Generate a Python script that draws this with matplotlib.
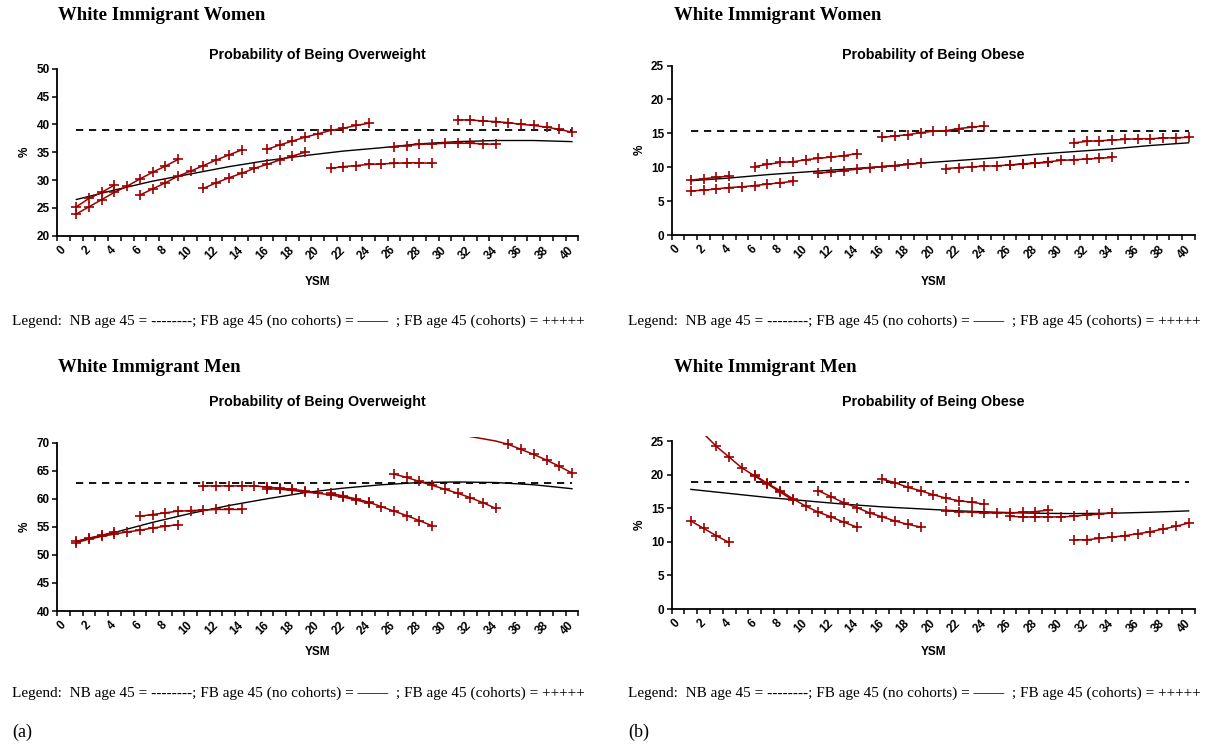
import matplotlib
matplotlib.use('Agg')
import matplotlib.pyplot as plt
import numpy as np
from matplotlib.patches import Rectangle

plt.rcParams['font.family'] = ['Liberation Sans', 'DejaVu Sans']

# ---------------- data ----------------
ysm_all = list(range(1, 41))
ysm_fb = [1, 4, 7, 10, 13, 16, 19, 22, 25, 28, 31, 34, 37, 40]
cohort_starts = [1, 1, 6, 11, 16, 21, 26, 31]
xtick_labels = [str(v) for v in range(0, 41, 2)]

# Women, overweight
ow_w_nb = 39.0
ow_w_fb = [26.5, 28.2, 29.8, 31.1, 32.4, 33.5, 34.4, 35.2, 35.8, 36.5, 36.9, 37.1, 37.1, 36.9]
ow_w_c1 = [25.2, 26.7, 27.8, 29.1]
ow_w_c2 = [23.9, 25.2, 26.5, 27.8, 28.9, 30.2, 31.4, 32.5, 33.7]
ow_w_c3 = [27.3, 28.4, 29.5, 30.7, 31.6, 32.6, 33.6, 34.5, 35.4]
ow_w_c4 = [28.5, 29.5, 30.4, 31.2, 32.1, 32.8, 33.6, 34.3, 35.0]
ow_w_c5 = [35.5, 36.3, 37.0, 37.7, 38.3, 38.9, 39.3, 39.8, 40.2]
ow_w_c6 = [32.1, 32.4, 32.6, 32.8, 32.9, 33.0, 33.1, 33.1, 33.0]
ow_w_c7 = [36.0, 36.2, 36.4, 36.5, 36.6, 36.6, 36.6, 36.5, 36.4]
ow_w_c8 = [40.8, 40.8, 40.6, 40.5, 40.3, 40.0, 39.8, 39.5, 39.1, 38.6]

# Women, obese
ob_w_nb = 15.3
ob_w_fb = [8.0, 8.4, 8.9, 9.3, 9.7, 10.1, 10.6, 11.0, 11.4, 11.9, 12.3, 12.7, 13.2, 13.6]
ob_w_c1 = [8.1, 8.3, 8.5, 8.7]
ob_w_c2 = [6.5, 6.6, 6.8, 7.0, 7.1, 7.3, 7.5, 7.7, 7.9]
ob_w_c3 = [10.1, 10.4, 10.7, 10.8, 11.1, 11.3, 11.5, 11.7, 12.0]
ob_w_c4 = [9.1, 9.3, 9.5, 9.7, 9.9, 10.1, 10.2, 10.4, 10.6]
ob_w_c5 = [14.4, 14.6, 14.8, 15.1, 15.3, 15.4, 15.7, 15.9, 16.1]
ob_w_c6 = [9.8, 9.95, 10.05, 10.15, 10.2, 10.35, 10.45, 10.6, 10.7]
ob_w_c7 = [10.3, 10.5, 10.6, 10.8, 11.0, 11.1, 11.2, 11.3, 11.45]
ob_w_c8 = [13.6, 13.8, 13.9, 14.0, 14.1, 14.2, 14.2, 14.3, 14.35, 14.4]

# Men, overweight
ow_m_nb = 62.9
ow_m_fb = [52.4, 54.0, 55.8, 57.4, 58.8, 60.0, 61.1, 61.9, 62.5, 62.9, 63.0, 62.9, 62.5, 61.8]
ow_m_c1 = [52.4, 53.0, 53.5, 54.1]
ow_m_c2 = [52.2, 52.8, 53.3, 53.7, 54.1, 54.4, 54.8, 55.1, 55.4]
ow_m_c3 = [56.9, 57.2, 57.5, 57.8, 57.9, 58.0, 58.1, 58.1, 58.1]
ow_m_c4 = [62.3, 62.3, 62.3, 62.3, 62.3, 62.1, 61.9, 61.7, 61.4]
ow_m_c5 = [61.8, 61.7, 61.5, 61.2, 61.0, 60.7, 60.3, 59.8, 59.2]
ow_m_c6 = [61.0, 60.5, 60.0, 59.4, 58.6, 57.8, 57.0, 56.1, 55.2]
ow_m_c7 = [64.4, 63.8, 63.1, 62.4, 61.7, 61.0, 60.2, 59.3, 58.3]
ow_m_c8 = [71.5, 71.1, 70.7, 70.3, 69.7, 68.8, 67.9, 66.9, 65.8, 64.6]

# Men, obese
ob_m_nb = 18.9
ob_m_fb = [17.8, 17.2, 16.6, 16.1, 15.6, 15.2, 14.9, 14.6, 14.4, 14.25, 14.2, 14.25, 14.4, 14.6]
ob_m_c1 = [13.1, 12.0, 10.9, 9.9]
ob_m_c2 = [28.2, 26.1, 24.2, 22.6, 21.0, 19.8, 18.6, 17.4, 16.2]
ob_m_c3 = [19.9, 18.7, 17.6, 16.4, 15.3, 14.4, 13.7, 12.9, 12.2]
ob_m_c4 = [17.6, 16.7, 15.8, 15.1, 14.3, 13.7, 13.1, 12.6, 12.2]
ob_m_c5 = [19.3, 18.8, 18.1, 17.6, 17.0, 16.5, 16.1, 15.9, 15.6]
ob_m_c6 = [14.6, 14.5, 14.4, 14.3, 14.3, 14.3, 14.4, 14.5, 14.7]
ob_m_c7 = [13.8, 13.7, 13.7, 13.7, 13.7, 13.8, 14.0, 14.1, 14.3]
ob_m_c8 = [10.3, 10.3, 10.5, 10.7, 10.9, 11.2, 11.5, 11.9, 12.3, 12.8]

# ---------------- drawing ----------------
W, H = 1221, 747
fig = plt.figure(figsize=(W / 100, H / 100), dpi=100)
RED = '#990000'
TFS = 8.5


def axes_px(x0, y0, x1, y1):
    return fig.add_axes([x0 / W, 1 - y1 / H, (x1 - x0) / W, (y1 - y0) / H])


def draw_panel(ax, ylo, yhi, nb, fb, cohorts, subtitle, sub_y, ysm_y):
    ax.set_xlim(-0.5, 40.5)
    ax.set_ylim(ylo, yhi)
    for s in ['top', 'right']:
        ax.spines[s].set_visible(False)
    for s in ['left', 'bottom']:
        ax.spines[s].set_linewidth(1.3)
    ax.set_yticks(np.arange(ylo, yhi + 0.1, 5))
    ax.set_yticklabels([f'{int(v)}' for v in np.arange(ylo, yhi + 0.1, 5)],
                       fontsize=TFS, fontweight='bold')
    ax.tick_params(axis='y', direction='out', length=3.5, width=1.1, pad=2)
    ax.set_xticks(range(0, 41, 2))
    ax.set_xticklabels(xtick_labels, rotation=45, ha='right', va='center',
                       rotation_mode='anchor', fontsize=TFS, fontweight='bold')
    ax.tick_params(axis='x', which='major', length=0, pad=9)
    ax.set_xticks(np.arange(-0.5, 41, 1), minor=True)
    ax.tick_params(axis='x', which='minor', direction='out', length=3.5, width=1.1)
    ax.set_ylabel('%', fontsize=TFS, fontweight='bold', labelpad=4)

    ax.plot(ysm_all, [nb] * len(ysm_all), color='black', lw=1.3,
            dashes=(4, 3.2), zorder=2)
    ax.plot(ysm_fb, fb, color='black', lw=1.0, zorder=2)
    ext = (yhi - ylo) * 0.032
    for start, vals in zip(cohort_starts, cohorts):
        x = np.arange(start, start + len(vals))
        v = np.array(vals)
        ln, = ax.plot(x, v, color=RED, lw=1.1, zorder=3)
        ln.set_clip_path(Rectangle((-0.5, ylo), 41, yhi - ylo + ext,
                                   transform=ax.transData))
        m = v <= yhi + 1e-9
        ax.plot(x[m], v[m], ls='none', marker='+', ms=7, mew=1.2,
                color=RED, zorder=4, clip_on=False)
    bb = ax.get_position()
    cx = (bb.x0 + bb.x1) / 2
    fig.text(cx, 1 - sub_y / H, subtitle, ha='center', va='center',
             fontsize=10.3, fontweight='bold')
    fig.text(cx, 1 - ysm_y / H, 'YSM', ha='center', va='center',
             fontsize=TFS, fontweight='bold')


ax1 = axes_px(57.3, 68.7, 578.3, 235.7)
draw_panel(ax1, 20, 50, ow_w_nb, ow_w_fb,
           [ow_w_c1, ow_w_c2, ow_w_c3, ow_w_c4, ow_w_c5, ow_w_c6, ow_w_c7, ow_w_c8],
           'Probability of Being Overweight', 55, 282)
ax2 = axes_px(671.7, 65.5, 1195, 235)
draw_panel(ax2, 0, 25, ob_w_nb, ob_w_fb,
           [ob_w_c1, ob_w_c2, ob_w_c3, ob_w_c4, ob_w_c5, ob_w_c6, ob_w_c7, ob_w_c8],
           'Probability of Being Obese', 55, 282)
ax3 = axes_px(57.3, 442.7, 578.3, 611)
draw_panel(ax3, 40, 70, ow_m_nb, ow_m_fb,
           [ow_m_c1, ow_m_c2, ow_m_c3, ow_m_c4, ow_m_c5, ow_m_c6, ow_m_c7, ow_m_c8],
           'Probability of Being Overweight', 402, 652)
ax4 = axes_px(671.7, 441, 1195, 609)
draw_panel(ax4, 0, 25, ob_m_nb, ob_m_fb,
           [ob_m_c1, ob_m_c2, ob_m_c3, ob_m_c4, ob_m_c5, ob_m_c6, ob_m_c7, ob_m_c8],
           'Probability of Being Obese', 402, 652)

serif = ['Liberation Serif', 'DejaVu Serif']
for (x, y, s) in [(58, 15, 'White Immigrant Women'), (674, 15, 'White Immigrant Women'),
                  (58, 368, 'White Immigrant Men'), (674, 368, 'White Immigrant Men')]:
    fig.text(x / W, 1 - y / H, s, ha='left', va='center', fontsize=13.5,
             fontweight='bold', family=serif)

legend_txt = ('Legend:  NB age 45 = --------; FB age 45 (no cohorts) = \u2014\u2014  ; '
              'FB age 45 (cohorts) = +++++')
for (x, y) in [(12, 321), (628, 321), (12, 693), (628, 693)]:
    fig.text(x / W, 1 - y / H, legend_txt, ha='left', va='center',
             fontsize=11, family=serif)
fig.text(12 / W, 1 - 732 / H, '(a)', ha='left', va='center', fontsize=13, family=serif)
fig.text(628 / W, 1 - 732 / H, '(b)', ha='left', va='center', fontsize=13, family=serif)

fig.savefig('out.png', dpi=100)
